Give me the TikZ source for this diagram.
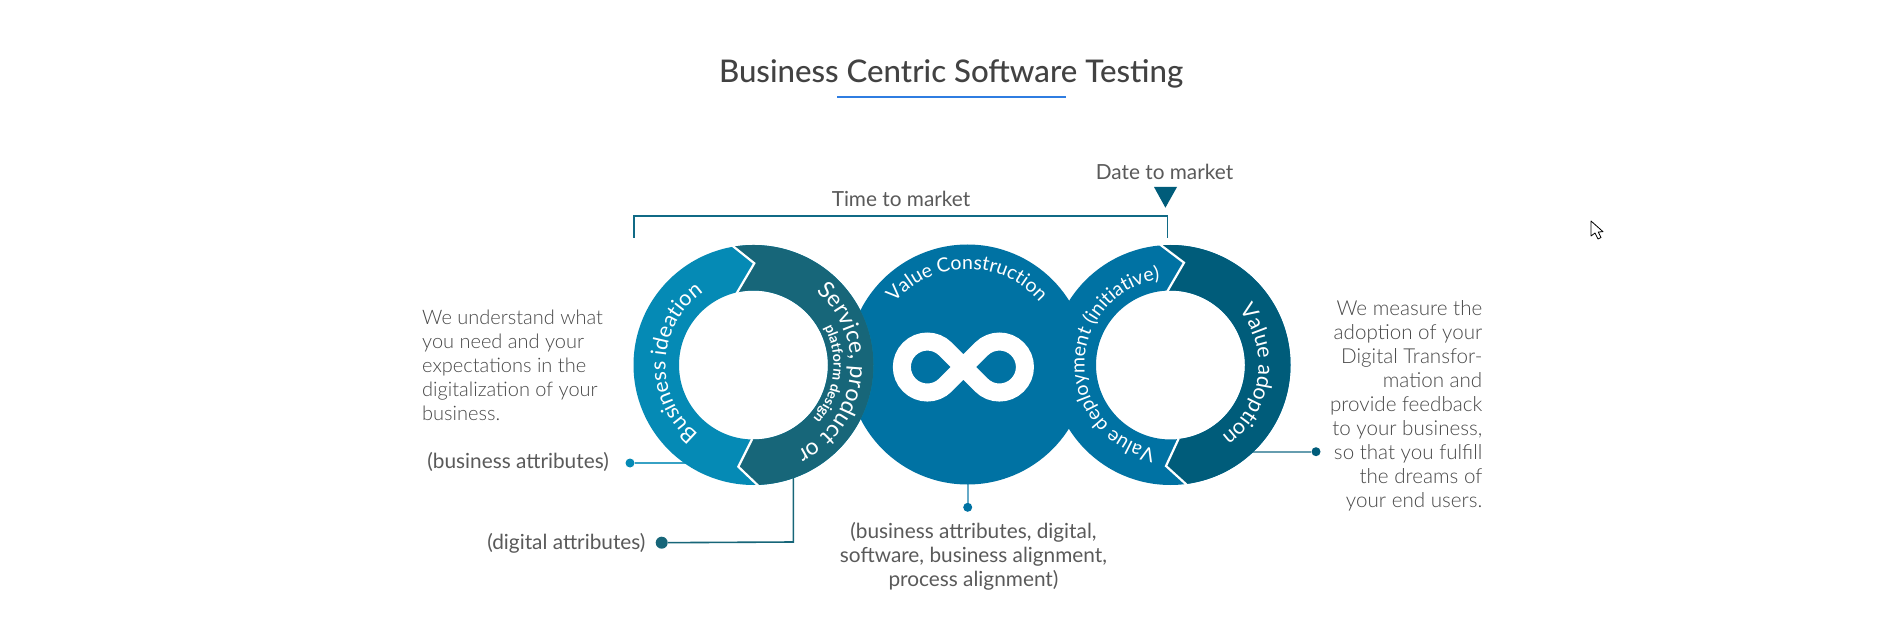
\documentclass[tikz,border=0pt]{standalone}
\usepackage{fontspec}
\setmainfont{Lato}
\newfontfamily\lightfont{Lato Light}
\newfontfamily\medfont{Lato Medium}
\usetikzlibrary{decorations.text,calc}
\definecolor{ringlight}{HTML}{058AB5}
\definecolor{ringteal}{HTML}{176679}
\definecolor{midblue}{HTML}{0072A3}
\definecolor{ringdark}{HTML}{005C7A}
\definecolor{bodygrey}{HTML}{484848}
\definecolor{labelgrey}{HTML}{5A5A5A}
\definecolor{titlegrey}{HTML}{424242}
\definecolor{rulecolor}{HTML}{2F7DE1}
\newcommand{\ringlabel}[7]{% cx,cy,R,a1,a2,font,text
  \path[decorate,decoration={text along path,text align=center,
    text={|\color{white}#6|#7}}]
    (#1,#2) ++(#4:#3) arc[start angle=#4,end angle=#5,radius=#3];}
\tikzset{
  body/.style={font=\lightfont\fontsize{20.5}{24}\selectfont,text=bodygrey,inner sep=0pt},
  attr/.style={font=\fontsize{20.8}{24}\selectfont,text=labelgrey,inner sep=0pt},
  dot/.style={circle,inner sep=0pt,minimum size=#1},
  link/.style={line width=1.6pt},
  chevron/.style={draw=white,line width=2.2pt,line join=miter},
}
\begin{document}
\begin{tikzpicture}[x=1pt,y=-1pt]
\useasboundingbox[fill=white] (0,0) rectangle (1901,636);
% title
\node[anchor=base,inner sep=0pt,text=titlegrey,font=\medfont\fontsize{31.2}{34}\selectfont] (title) at (951,83) {Business Centric Software Testing};
\coordinate (ulA) at (837,96.7); \coordinate (ulB) at (1066,96.7);
\draw[rulecolor,line width=2pt] (ulA) -- (ulB);
% bracket
\coordinate (brA) at (634,237.7); \coordinate (brB) at (634,216);
\coordinate (brC) at (1167.6,216); \coordinate (brD) at (1167.6,237.7);
\draw[ringteal!70!midblue,line width=1.7pt] (brA) -- (brB) -- (brC) -- (brD);
\node[attr,anchor=base] (ttm) at (901,206.7) {Time to market};
\node[attr,anchor=base] (dtm) at (1164.5,179.5) {Date to market};
\fill[ringdark] (1154,187) -- (1177,187) -- (1165.4,207.7) -- cycle;
% connectors under rings
\node[dot=9pt,fill=ringlight] (dotA) at (630,463) {};
\coordinate (ringA) at (690,463);
\draw[ringlight!80!white,link] (dotA) -- (ringA);
\node[dot=12pt,fill=ringteal] (dotB) at (661.7,542.7) {};
\coordinate (ringB) at (793.3,470); \coordinate (elbowB) at (793.3,542);
\draw[ringteal,link] (dotB) -- (elbowB) -- (ringB);
\node[dot=9pt,fill=midblue] (dotC) at (967.7,507.3) {};
\coordinate (ringC) at (967.7,480);
\draw[midblue!60!white,line width=2pt] (dotC) -- (ringC);
\node[dot=9pt,fill=ringdark] (dotD) at (1316,451.7) {};
\coordinate (ringD) at (1250,451.7);
\draw[ringdark!60!white,line width=2pt] (dotD) -- (ringD);
% middle circle
\node[circle,fill=midblue,inner sep=0pt,minimum size=240pt] (mid) at (967.5,364.5) {};
% left ring
\fill[ringlight,even odd rule] (753.5,365) circle[radius=120] (753.5,365) circle[radius=74.5];
\fill[ringteal] (753.5,365) ++(-99.9:120) arc[start angle=-99.9,end angle=88.5,radius=120]
  -- (738.3,466.7) -- ($(753.5,365)+(91.4:74.5)$) arc[start angle=91.4,end angle=-102.9,radius=74.5]
  -- (754.3,263.3) -- cycle;
\draw[chevron] (731.5,245) -- (754.3,263.3) -- (736.5,293.5);
\draw[chevron] (752.2,439) -- (738.3,466.7) -- (758,485.5);
% right ring
\fill[midblue,even odd rule] (1170.5,365) circle[radius=120] (1170.5,365) circle[radius=74.5];
\fill[ringdark] (1170.5,365) ++(-94.2:120) arc[start angle=-94.2,end angle=82.6,radius=120]
  -- (1166,466) -- ($(1170.5,365)+(84:74.5)$) arc[start angle=84,end angle=-92.2,radius=74.5]
  -- (1184,262.7) -- cycle;
\draw[chevron] (1160,244.5) -- (1184,262.7) -- (1167.2,291.5);
\draw[chevron] (1178.8,438.3) -- (1166,466) -- (1187.5,485.5);
% infinity
\def\infr{25.5}
\draw[white,line width=18pt,line join=miter,miter limit=10]
  (963.4,367) -- ++(-18,-18) arc[start angle=-45,end angle=-315,radius=\infr]
  -- (963.4,367) -- ++(18,-18) arc[start angle=-135,end angle=135,radius=\infr] -- cycle;
% ring text
\ringlabel{753.5}{365}{88}{92}{272}{\fontsize{21.5}{24}\selectfont}{Business ideation}
\ringlabel{753.5}{365}{97}{-83}{97}{\fontsize{23}{24}\selectfont}{Service, product or}
\ringlabel{753.5}{365}{80}{-83}{97}{\bfseries\fontsize{14}{16}\selectfont}{platform design}
\ringlabel{967.5}{364.5}{95.5}{-180.4}{-0.4}{\fontsize{19.5}{24}\selectfont}{Value Construction}
\ringlabel{1170.5}{365}{86}{91.5}{271.5}{\fontsize{19.5}{24}\selectfont}{Value deployment (initiative)}
\ringlabel{1170.5}{365}{88}{-82.3}{97.7}{\fontsize{21.5}{24}\selectfont}{Value adoption}
% left texts
\node[body,anchor=north west,align=left,font=\lightfont\fontsize{20}{24}\selectfont] (txtL) at (422,306.2) {\rule{0pt}{18pt}We understand what\\you need and your\\expectations in the\\digitalization of your\\business.};
\node[attr,anchor=base east] (lblA) at (609,468.5) {(business attributes)};
\node[attr,anchor=base east] (lblB) at (645.7,549) {(digital attributes)};
\node[attr,anchor=north,align=center] (lblC) at (973.5,520.7) {\rule{0pt}{18pt}(business attributes, digital,\\software, business alignment,\\process alignment)};
\node[body,anchor=north east,align=right,font=\lightfont\fontsize{20.6}{24}\selectfont] (txtR) at (1482.5,297) {\rule{0pt}{18pt}We measure the\\adoption of your\\Digital Transfor-\\mation and\\provide feedback\\to your business,\\so that you fulfill\\the dreams of\\your end users.};
% mouse cursor
\draw[black,fill=white,line width=.8pt,line join=round] (1591,221) -- (1591,236) -- (1595,233) -- (1598,239) -- (1601,237.5) -- (1598.2,232) -- (1603,231.7) -- cycle;
\end{tikzpicture}
\end{document}
